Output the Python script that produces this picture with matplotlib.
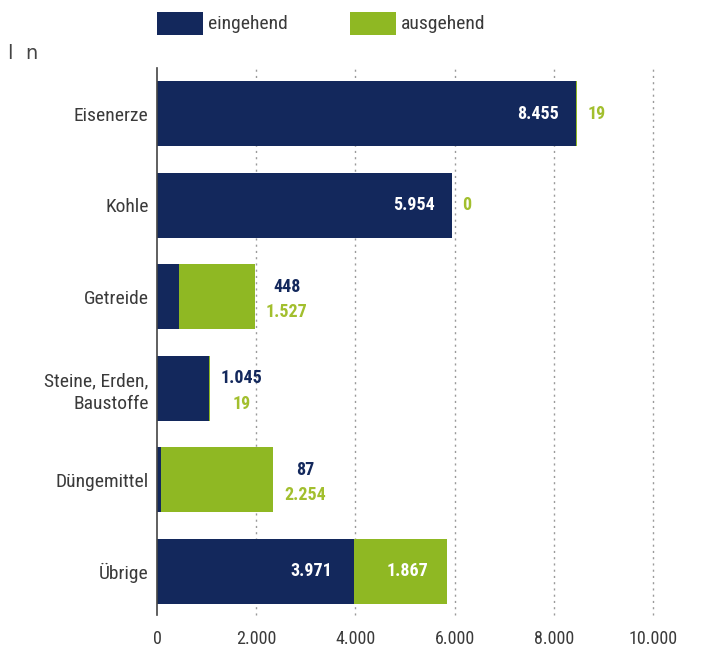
import matplotlib.pyplot as plt
from matplotlib import font_manager
from matplotlib.patches import Rectangle

# Umschlag nach Gütergruppen (in 1.000 t)
categories = ['Eisenerze', 'Kohle', 'Getreide', 'Steine, Erden,\nBaustoffe', 'Düngemittel', 'Übrige']
eingehend = [8455, 5954, 448, 1045, 87, 3971]
ausgehend = [19, 0, 1527, 19, 2254, 1867]
xticks = [0, 2000, 4000, 6000, 8000, 10000]
series = ['eingehend', 'ausgehend']

NAVY = '#13285c'
GREEN = '#8fb823'
GREEN_TXT = '#a2bf2e'
GREY_TXT = '#3a3a3a'

# schmale Schrift suchen, sonst normale
narrow = None
for f in font_manager.fontManager.ttflist:
    if f.stretch in ('condensed', 'semi-condensed', 'extra-condensed') or \
            'Condensed' in f.name or 'Narrow' in f.name:
        if narrow is None or 'Roboto' in f.name or 'Liberation' in f.name:
            narrow = f
if narrow is not None:
    plt.rcParams['font.family'] = [narrow.name, 'DejaVu Sans']
    plt.rcParams['font.stretch'] = narrow.stretch
else:
    plt.rcParams['font.family'] = ['DejaVu Sans']
    plt.rcParams['font.stretch'] = 'condensed'

def fmt(v):
    return f'{v:,}'.replace(',', '.')

fig = plt.figure(figsize=(7.03, 6.53), dpi=100)
ax = fig.add_axes([0.2233, 0.0582, 0.7056, 0.8377])

y = list(range(len(categories)))
h = 0.71
ax.barh(y, eingehend, height=h, color=NAVY, zorder=3)
ax.barh(y, ausgehend, left=eingehend, height=h, color=GREEN, zorder=3)

fs = 13
for i, (e, a) in enumerate(zip(eingehend, ausgehend)):
    end = e + a
    if e > 3000 and a > 1000:
        ax.text(e - 450, i, fmt(e), color='white', ha='right', va='center',
                fontsize=fs, fontweight='bold', zorder=4)
        ax.text(e + a / 2 + 150, i, fmt(a), color='white', ha='center', va='center',
                fontsize=fs, fontweight='bold', zorder=4)
    elif e > 3000:
        ax.text(e - 350, i, fmt(e), color='white', ha='right', va='center',
                fontsize=fs, fontweight='bold', zorder=4)
        ax.text(end + 200, i, fmt(a), color=GREEN_TXT, ha='left', va='center',
                fontsize=fs, fontweight='bold', zorder=4)
    else:
        xc = end + 640
        ax.text(xc, i - 0.11, fmt(e), color=NAVY, ha='center', va='center',
                fontsize=fs, fontweight='bold', zorder=4)
        ax.text(xc, i + 0.17, fmt(a), color=GREEN_TXT, ha='center', va='center',
                fontsize=fs, fontweight='bold', zorder=4)

ax.set_xlim(0, 10000)
ax.set_ylim(len(categories) - 0.52, -0.5)
ax.set_yticks(y)
ax.set_yticklabels(categories, fontsize=14, color=GREY_TXT)
ax.set_xticks(xticks)
ax.set_xticklabels([fmt(t) for t in xticks], fontsize=fs, color=GREY_TXT)
ax.tick_params(axis='y', length=0, pad=6)
ax.tick_params(axis='x', length=0, pad=11)
for lbl in ax.get_yticklabels():
    lbl.set_multialignment('right')
    lbl.set_linespacing(1.35)

for s in ['top', 'right', 'bottom']:
    ax.spines[s].set_visible(False)
ax.spines['left'].set_color('#444444')
ax.spines['left'].set_linewidth(1.2)
ax.spines['left'].set_zorder(5)

for t in xticks[1:]:
    ax.axvline(t, color='#9a9a9a', lw=1, linestyle=(0, (1.5, 3)), zorder=1, clip_on=False)

# Legende oben
for x0, col, name in zip([0.2233, 0.4979], [NAVY, GREEN], series):
    fig.add_artist(Rectangle((x0, 0.9464), 0.0654, 0.0352, transform=fig.transFigure,
                             color=col, lw=0))
    fig.text(x0 + 0.0725, 0.9632, name, fontsize=14, color=GREY_TXT, va='center')

fig.text(0.012, 0.918, 'l  n', fontsize=14, color='#444444', family='DejaVu Sans',
         stretch='normal', va='center')

fig.savefig('out.png', dpi=100)
